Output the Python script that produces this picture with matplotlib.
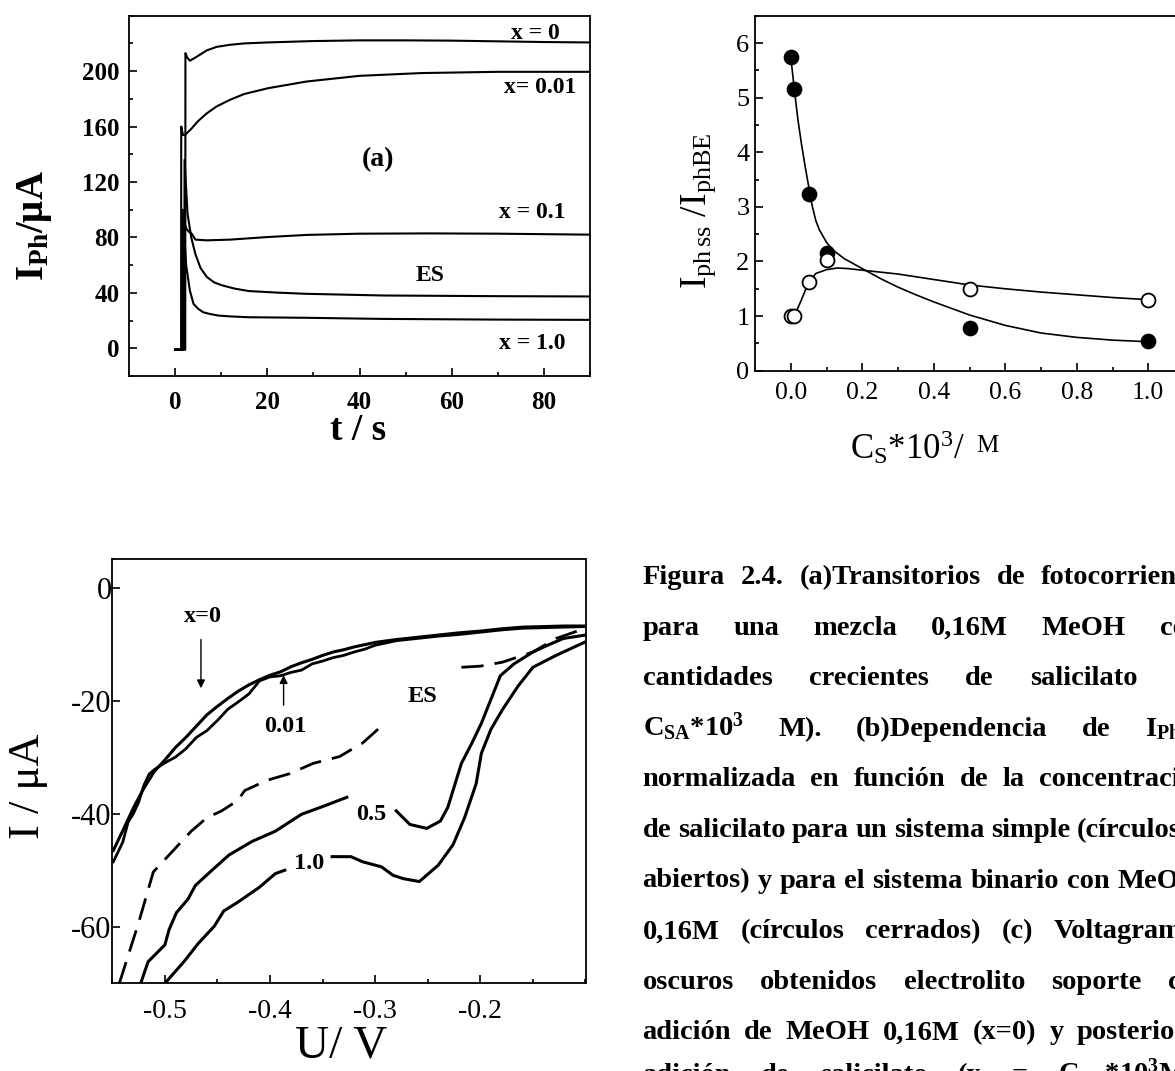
import matplotlib as mpl
mpl.use('Agg')
import matplotlib.pyplot as plt
from matplotlib.ticker import MultipleLocator

# Fonts: Times-like serif everywhere
plt.rcParams['font.family'] = ['Liberation Serif', 'DejaVu Serif']
plt.rcParams['mathtext.fontset'] = 'custom'
plt.rcParams['mathtext.rm'] = 'Liberation Serif'
plt.rcParams['mathtext.it'] = 'Liberation Serif:italic'
plt.rcParams['mathtext.bf'] = 'Liberation Serif:bold'
plt.rcParams['axes.unicode_minus'] = False

# ---------------- data: (a) photocurrent transients ----------------
t_x0 = [0, 2.2, 2.24, 2.6, 3.2, 4.5, 6.9, 9, 11.9, 15, 20, 30, 40, 50, 60, 70, 80, 90]
i_x0 = [-1, -1, 213, 210, 207.5, 210, 215, 217.5, 219, 220, 220.7, 221.7, 222.2, 222.2, 222, 221.5, 221, 220.7]

t_x001 = [0, 1.3, 1.33, 1.7, 2.2, 3.6, 5, 6.9, 9, 11.9, 15, 20.2, 28.5, 40, 53.4, 70, 90]
i_x001 = [-1, -1, 160, 154, 154, 158.7, 164, 169.6, 174.5, 179.3, 183.5, 187.7, 192.5, 196.6, 198.6, 199.5, 199.5]

t_x01 = [0, 1.8, 1.85, 2.5, 3.0, 3.6, 4.4, 6.9, 11.9, 20.2, 28.5, 40, 55, 70, 90]
i_x01 = [-1, -1, 92, 86, 84, 82.7, 78.4, 77.9, 78.4, 80.3, 81.8, 82.7, 82.9, 82.7, 82.0]

t_es = [0, 2.0, 2.05, 2.7, 3.5, 4.4, 5.5, 6.9, 8.5, 10.2, 13, 16, 22, 28.5, 45, 70, 90]
i_es = [-1, -1, 136, 97, 80, 68, 58, 51.4, 47.5, 45.4, 43, 41.3, 40.2, 39.3, 38.1, 37.6, 37.4]

t_x1 = [0, 1.6, 1.65, 2.4, 3.2, 4, 5, 6.1, 7.5, 9.4, 12, 16, 28.5, 45, 70, 90]
i_x1 = [-1, -1, 100, 60, 41.7, 32, 28.5, 26, 24.8, 23.6, 23, 22.4, 22, 21.2, 20.7, 20.5]

a_xticks = [0, 20, 40, 60, 80]
a_yticks = [0, 40, 80, 120, 160, 200]
a_labels = ['x = 0', 'x= 0.01', '(a)', 'x = 0.1', 'ES', 'x = 1.0']
a_label_pos = [(78.2, 227.3), (79.1, 188.3), (44.0, 135.9), (77.4, 98.1), (55.4, 52.2), (77.4, 3.1)]

# ---------------- data: (b) normalised steady-state photocurrent ----------------
cs_closed = [0.0, 0.01, 0.05, 0.1, 0.5, 1.0]
r_closed = [5.75, 5.15, 3.24, 2.16, 0.78, 0.54]
cs_open = [0.0, 0.01, 0.05, 0.1, 0.5, 1.0]
r_open = [1.0, 1.0, 1.62, 2.02, 1.5, 1.3]

fit_closed_x = [0, 0.005, 0.01, 0.02, 0.03, 0.04, 0.05, 0.06, 0.07, 0.08, 0.1, 0.12, 0.15,
                0.2, 0.25, 0.3, 0.35, 0.4, 0.5, 0.6, 0.7, 0.8, 0.9, 1.0]
fit_closed_y = [5.75, 5.45, 5.15, 4.6, 4.15, 3.75, 3.38, 3.02, 2.75, 2.58, 2.35, 2.2, 2.05,
                1.87, 1.69, 1.53, 1.39, 1.26, 1.02, 0.83, 0.69, 0.61, 0.56, 0.53]
fit_open_x = [0, 0.01, 0.03, 0.05, 0.07, 0.1, 0.13, 0.16, 0.2, 0.3, 0.4, 0.5, 0.6, 0.7, 0.8, 0.9, 1.0]
fit_open_y = [1.0, 1.0, 1.3, 1.62, 1.78, 1.85, 1.88, 1.87, 1.84, 1.77, 1.67, 1.57, 1.5, 1.44, 1.39, 1.34, 1.3]

b_xticks = [0.0, 0.2, 0.4, 0.6, 0.8, 1.0]
b_yticks = [0, 1, 2, 3, 4, 5, 6]

# ---------------- data: (c) dark voltammograms ----------------
u_x0 = [-0.549, -0.54, -0.53, -0.52, -0.51, -0.50, -0.49, -0.48, -0.47, -0.46, -0.45, -0.44,
        -0.43, -0.42, -0.41, -0.40, -0.39, -0.38, -0.37, -0.36, -0.35, -0.34, -0.33, -0.32,
        -0.31, -0.30, -0.28, -0.26, -0.24, -0.22, -0.20, -0.18, -0.16, -0.14, -0.12, -0.10]
i_cx0 = [-46.5, -43, -39, -35.5, -32.5, -30.5, -28.3, -26.5, -24.5, -22.5, -21.0, -19.6,
         -18.3, -17.2, -16.3, -15.5, -14.9, -14.0, -13.3, -12.7, -12.0, -11.4, -11.0, -10.5,
         -10.1, -9.7, -9.2, -8.8, -8.4, -8.0, -7.7, -7.3, -7.0, -6.9, -6.8, -6.8]

u_x001 = [-0.549, -0.54, -0.535, -0.53, -0.525, -0.52, -0.515, -0.51, -0.50, -0.49, -0.48,
          -0.47, -0.46, -0.45, -0.44, -0.43, -0.42, -0.41, -0.40, -0.39, -0.38, -0.37, -0.36,
          -0.35, -0.34, -0.33, -0.32, -0.31, -0.30, -0.28, -0.26, -0.24, -0.22, -0.20, -0.18,
          -0.16, -0.14, -0.12, -0.10]
i_cx001 = [-48.5, -45, -41.5, -40, -38, -35, -33, -32.2, -31, -30, -28.5,
           -26.5, -25.3, -23.5, -21.5, -20.2, -18.8, -16.5, -15.8, -15.6, -15.0, -14.6, -13.5,
           -13.0, -12.4, -12.0, -11.4, -10.9, -10.2, -9.4, -9.0, -8.6, -8.3, -7.9, -7.5,
           -7.2, -7.1, -7.0, -6.9]

# None marks a break in a trace (where the original has a label or a gap)
u_es = [-0.5433, -0.525, -0.511, -0.496, -0.475, -0.46, -0.446, -0.431, -0.424, -0.403, -0.381,
        -0.359, -0.334, -0.312, -0.291, None, -0.218, -0.2, -0.179, -0.15, -0.128, -0.10]
i_es_c = [-70, -59.3, -50.3, -47.3, -43.1, -40.7, -39.5, -37.7, -35.9, -34.1, -32.9,
          -31.1, -29.9, -27.5, -24.0, None, -14.1, -13.9, -13.2, -11.4, -9.0, -7.2]

u_x05 = [-0.523, -0.516, -0.5, -0.496, -0.489, -0.478, -0.471, -0.457, -0.439, -0.417, -0.395,
         -0.37, -0.348, -0.327, None, -0.28, -0.267, -0.251, -0.238, -0.231, -0.224, -0.218,
         -0.208, -0.199, -0.19, -0.181, -0.168, -0.15, -0.136, -0.121, -0.10]
i_x05 = [-70, -66.2, -63.2, -60.5, -57.5, -55.1, -52.7, -50.3, -47.3, -44.9, -43.1,
         -40.1, -38.6, -37.1, None, -39.5, -41.9, -42.6, -41.3, -38.9, -34.7, -31.1,
         -27.5, -24.0, -19.8, -15.6, -13.5, -11.4, -10.2, -9.0, -8.4]

u_x10 = [-0.5, -0.482, -0.468, -0.453, -0.444, -0.431, -0.41, -0.395, -0.386, None,
         -0.341, -0.323, -0.312, -0.294, -0.283, -0.273, -0.258, -0.24, -0.226, -0.215,
         -0.204, -0.199, -0.19, -0.179, -0.164, -0.15, -0.128, -0.114, -0.10]
i_x10 = [-70, -66.2, -62.9, -59.9, -57.2, -55.7, -53.0, -50.6, -50.0, None,
         -47.6, -47.6, -48.5, -49.4, -50.9, -51.5, -52.0, -49.1, -45.5, -40.7,
         -34.7, -29.3, -25.1, -21.6, -17.4, -14.1, -12.0, -10.8, -9.6]

c_xticks = [-0.5, -0.4, -0.3, -0.2]
c_yticks = [0, -20, -40, -60]
c_labels = ['x=0', '0.01', 'ES', '0.5', '1.0']
c_label_pos = [(-0.464, -5.1), (-0.386, -24.6), (-0.255, -19.2), (-0.3035, -40.1), (-0.363, -48.8)]

# ---------------- caption text ----------------
caption = [
    ['Figura', '2.4.', '(a)Transitorios', 'de', 'fotocorrientes'],
    ['para', 'una', 'mezcla', '0,16M', 'MeOH', 'con'],
    ['cantidades', 'crecientes', 'de', 'salicilato', '(x'],
    [r'C$_\mathregular{SA}$*10$^\mathregular{3}$', 'M).', '(b)Dependencia', 'de', r'I$_\mathregular{Ph}$'],
    ['normalizada', 'en', 'función', 'de', 'la', 'concentración'],
    ['de', 'salicilato', 'para', 'un', 'sistema', 'simple', '(círculos'],
    ['abiertos)', 'y', 'para', 'el', 'sistema', 'binario', 'con', 'MeOH'],
    ['0,16M', '(círculos', 'cerrados)', '(c)', 'Voltagramas'],
    ['oscuros', 'obtenidos', 'electrolito', 'soporte', 'con'],
    ['adición', 'de', 'MeOH', '0,16M', '(x=0)', 'y', 'posterior'],
    ['adición', 'de', 'salicilato', '(x', '=', r'C$_\mathregular{SA}$*10$^\mathregular{3}$M).'],
]
# which word of each line is pinned, and where it starts (px)
caption_anchor = [(4, 1041), (5, 1160), (3, 1030), (4, 1145), (5, 1039), (6, 1077),
                  (7, 1117), (4, 1054), (4, 1168), (6, 1077), (3, 958)]

W, H = 1175, 1071
fig = plt.figure(figsize=(W / 100, H / 100), dpi=100)


def rect(l, t, r, b):
    return [l / W, 1 - b / H, (r - l) / W, (b - t) / H]


def fx(x):
    return x / W


def fy(y):
    return 1 - y / H


def frame(ax):
    for s in ax.spines.values():
        s.set_linewidth(1.3)
    ax.tick_params(which='both', direction='in', top=False, right=False, width=1.2)
    ax.tick_params(which='major', length=6)
    ax.tick_params(which='minor', length=3)


def nan(vals):
    return [float('nan') if v is None else v for v in vals]


# ---------------- panel (a) ----------------
ax1 = fig.add_axes(rect(129, 15.7, 590, 376))
for t, i in [(t_x0, i_x0), (t_x001, i_x001), (t_x01, i_x01), (t_es, i_es), (t_x1, i_x1)]:
    ax1.plot(t, i, color='black', lw=1.5)
ax1.set_xlim(-10, 90)
ax1.set_ylim(-20, 240)
frame(ax1)
ax1.set_xticks(a_xticks, labels=[str(v) for v in a_xticks], fontsize=18, fontweight='bold')
ax1.set_yticks(a_yticks, labels=[str(v) for v in a_yticks], fontsize=18, fontweight='bold')
ax1.xaxis.set_minor_locator(MultipleLocator(10))
ax1.yaxis.set_minor_locator(MultipleLocator(20))
ax1.tick_params(axis='x', pad=11)
ax1.tick_params(axis='y', pad=7)
for txt, (x, y) in zip(a_labels, a_label_pos):
    fs = 20 if txt == '(a)' else 17
    ax1.text(x, y, txt, fontsize=fs, fontweight='bold', ha='center', va='center')
fig.text(fx(34), fy(226), r'I$_\mathregular{Ph}$/μA', fontsize=28, fontweight='bold',
         rotation=90, ha='center', va='center')
fig.text(fx(358), fy(431), 't / s', fontsize=27, fontweight='bold', ha='center', va='center')

# ---------------- panel (b) ----------------
ax2 = fig.add_axes(rect(755, 15.7, 1184, 370.7))
ax2.plot(fit_closed_x, fit_closed_y, color='black', lw=1.2, zorder=2)
ax2.plot(fit_open_x, fit_open_y, color='black', lw=1.2, zorder=2)
ax2.plot(cs_closed, r_closed, 'o', ms=10, mfc='black', mec='black', mew=1.3, zorder=3)
ax2.plot(cs_open, r_open, 'o', ms=10, mfc='white', mec='black', mew=1.3, zorder=3)
ax2.set_xlim(-0.1, 1.1)
ax2.set_ylim(0, 6.5)
frame(ax2)
ax2.set_xticks(b_xticks, labels=['%.1f' % v for v in b_xticks], fontsize=18.5)
ax2.set_yticks(b_yticks, labels=[str(v) for v in b_yticks], fontsize=19)
ax2.xaxis.set_minor_locator(MultipleLocator(0.1))
ax2.yaxis.set_minor_locator(MultipleLocator(0.5))
ax2.tick_params(axis='x', pad=8)
ax2.tick_params(axis='y', pad=4)
fig.text(fx(699), fy(211), r'I$_\mathregular{ph\,ss}$ /I$_\mathregular{phBE}$', fontsize=27,
         rotation=90, ha='center', va='center')
fig.text(fx(850), fy(459), r'C$_\mathregular{S}$*10$^\mathregular{3}$/', fontsize=25,
         ha='left', va='baseline')
fig.text(fx(976), fy(452), 'M', fontsize=18, ha='left', va='baseline')

# ---------------- panel (c) ----------------
ax3 = fig.add_axes(rect(112.3, 559.3, 585.5, 983.3))
ax3.plot(u_x0, i_cx0, color='black', lw=2.2)
ax3.plot(u_x001, i_cx001, color='black', lw=2.0)
ax3.plot(nan(u_es), nan(i_es_c), color='black', lw=2.0, dashes=(8, 4))
ax3.plot(nan(u_x05), nan(i_x05), color='black', lw=2.2)
ax3.plot(nan(u_x10), nan(i_x10), color='black', lw=2.2)
ax3.set_xlim(-0.55, -0.10)
ax3.set_ylim(-70, 5)
frame(ax3)
ax3.set_xticks(c_xticks, labels=['%.1f' % v for v in c_xticks], fontsize=20)
ax3.set_yticks(c_yticks, labels=[str(v) for v in c_yticks], fontsize=22)
ax3.xaxis.set_minor_locator(MultipleLocator(0.05))
ax3.tick_params(axis='x', pad=11)
ax3.tick_params(axis='y', pad=0.5)
for txt, (x, y) in zip(c_labels, c_label_pos):
    ax3.text(x, y, txt, fontsize=17.5, fontweight='bold', ha='center', va='center')
ax3.annotate('', xy=(-0.4657, -18.3), xytext=(-0.4657, -8.7),
             arrowprops=dict(arrowstyle='-|>', color='black', lw=1.0, mutation_scale=12))
ax3.annotate('', xy=(-0.3871, -15.0), xytext=(-0.3871, -21.3),
             arrowprops=dict(arrowstyle='-|>', color='black', lw=1.0, mutation_scale=12))
fig.text(fx(28), fy(786), 'I / μA', fontsize=32, rotation=90, ha='center', va='center')
fig.text(fx(341), fy(1046), 'U/ V', fontsize=34, ha='center', va='center')

# ---------------- caption (justified, clipped at the right edge) ----------------
renderer = fig.canvas.get_renderer()
for n, words in enumerate(caption):
    base = 584 + 50.6 * n if n < 10 else 1082
    k, xk = caption_anchor[n]
    texts = [fig.text(0, fy(base), w, fontsize=20.5, fontweight='bold', ha='left', va='baseline')
             for w in words]
    widths = [t.get_window_extent(renderer).width for t in texts]
    x0 = 642.6
    gap = (xk - x0 - sum(widths[:k])) / k
    x = x0
    for t, w in zip(texts, widths):
        t.set_x(fx(x))
        x += w + gap

fig.savefig('out.png', dpi=100)
plt.close()
